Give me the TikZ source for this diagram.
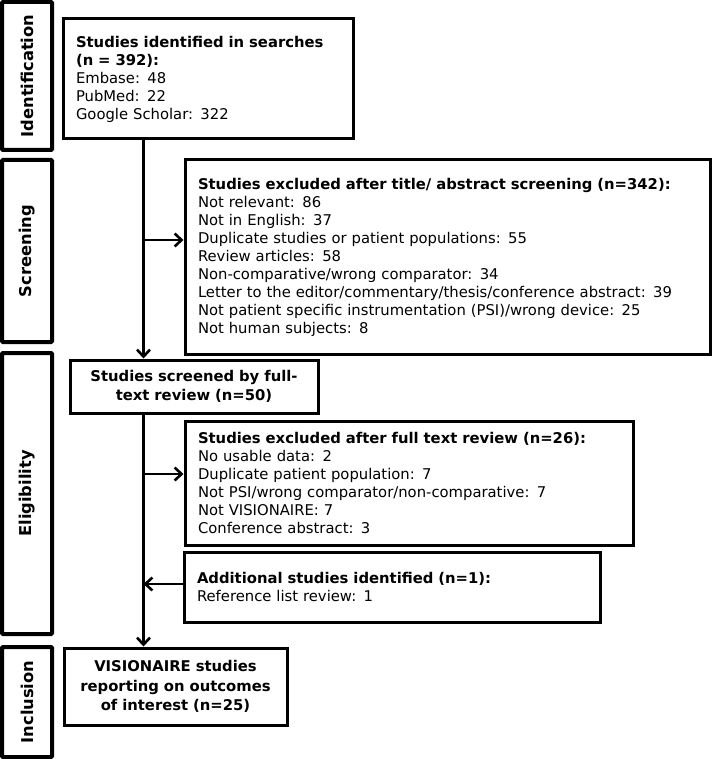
\documentclass[tikz,border=0pt]{standalone}
\usepackage{fontspec}
\setmainfont{DejaVu Sans}
\usetikzlibrary{arrows.meta}
\begin{document}
\begin{tikzpicture}[x=1pt,y=-1pt,
  side/.style={draw, line width=4pt, rounded corners=1pt, minimum width=50pt, inner sep=0pt},
  sidelabel/.style={rotate=90, font=\fontsize{16.3}{18}\selectfont\bfseries, inner sep=0pt},
  box/.style={draw, line width=3pt, inner xsep=13pt, inner ysep=0pt, align=left, font=\fontsize{14.8}{18}\selectfont},
  cbox/.style={draw, line width=3pt, inner xsep=4pt, inner ysep=0pt, align=center, font=\fontsize{14.8}{19.5}\selectfont\bfseries},
  conn/.style={line width=2.6pt},
  arr/.style={conn, -{Straight Barb[length=7pt,width=13pt,line width=2.6pt]}}
]
\useasboundingbox (0,0) rectangle (712,759);
% side boxes
\node[side, minimum height=148pt] (sid) at (27,76) {};
\node[sidelabel] (lid) at (sid.center) {Identification};
\node[side, minimum height=182pt] (sscr) at (27,251) {};
\node[sidelabel] (lscr) at (sscr.center) {Screening};
\node[side, minimum height=281pt] (selig) at (27,493.5) {};
\node[sidelabel] (lelig) at (selig.center) {Eligibility};
\node[side, minimum height=110pt] (sinc) at (27,702) {};
\node[sidelabel] (linc) at (sinc.center) {Inclusion};
% main boxes
\node[box, minimum height=120pt, text width=264pt] (ident) at (208,79)
 {\textbf{Studies identified in searches}\\\textbf{(n = 392):}\\Embase: 48\\PubMed: 22\\Google Scholar: 322};
\node[box, minimum height=194pt, text width=499pt] (exc1) at (447.5,257)
 {\textbf{Studies excluded after title/ abstract screening (n=342):}\\
 Not relevant: 86\\Not in English: 37\\Duplicate studies or patient populations: 55\\
 Review articles: 58\\Non-comparative/wrong comparator: 34\\
 Letter to the editor/commentary/thesis/conference abstract: 39\\
 Not patient specific instrumentation (PSI)/wrong device: 25\\Not human subjects: 8};
\node[cbox, minimum height=53pt, text width=240pt] (full) at (194,386.5)
 {Studies screened by full-\\text review (n=50)};
\node[box, minimum height=124pt, text width=422pt] (exc2) at (409,483)
 {\textbf{Studies excluded after full text review (n=26):}\\No usable data: 2\\
 Duplicate patient population: 7\\Not PSI/wrong comparator/non-comparative: 7\\
 Not VISIONAIRE: 7\\Conference abstract: 3};
\node[box, minimum height=70pt, text width=390pt] (add) at (392,587)
 {\textbf{Additional studies identified (n=1):}\\Reference list review: 1};
\node[cbox, minimum height=77pt, text width=215pt] (incl) at (175.5,686.5)
 {VISIONAIRE studies\\reporting on outcomes\\of interest (n=25)};
% connectors
\coordinate (c1) at (143.5,0);
\draw[arr] (ident.south -| c1) -- (full.north -| c1);
\coordinate (j1) at (143.5,240);
\draw[arr] (j1) -- (exc1.west |- j1);
\draw[arr] (full.south -| c1) -- (incl.north -| c1);
\coordinate (j2) at (143.5,474);
\draw[arr] (j2) -- (exc2.west |- j2);
\coordinate (j3) at (143.5,584);
\draw[arr] (add.west |- j3) -- (j3);
\end{tikzpicture}
\end{document}
